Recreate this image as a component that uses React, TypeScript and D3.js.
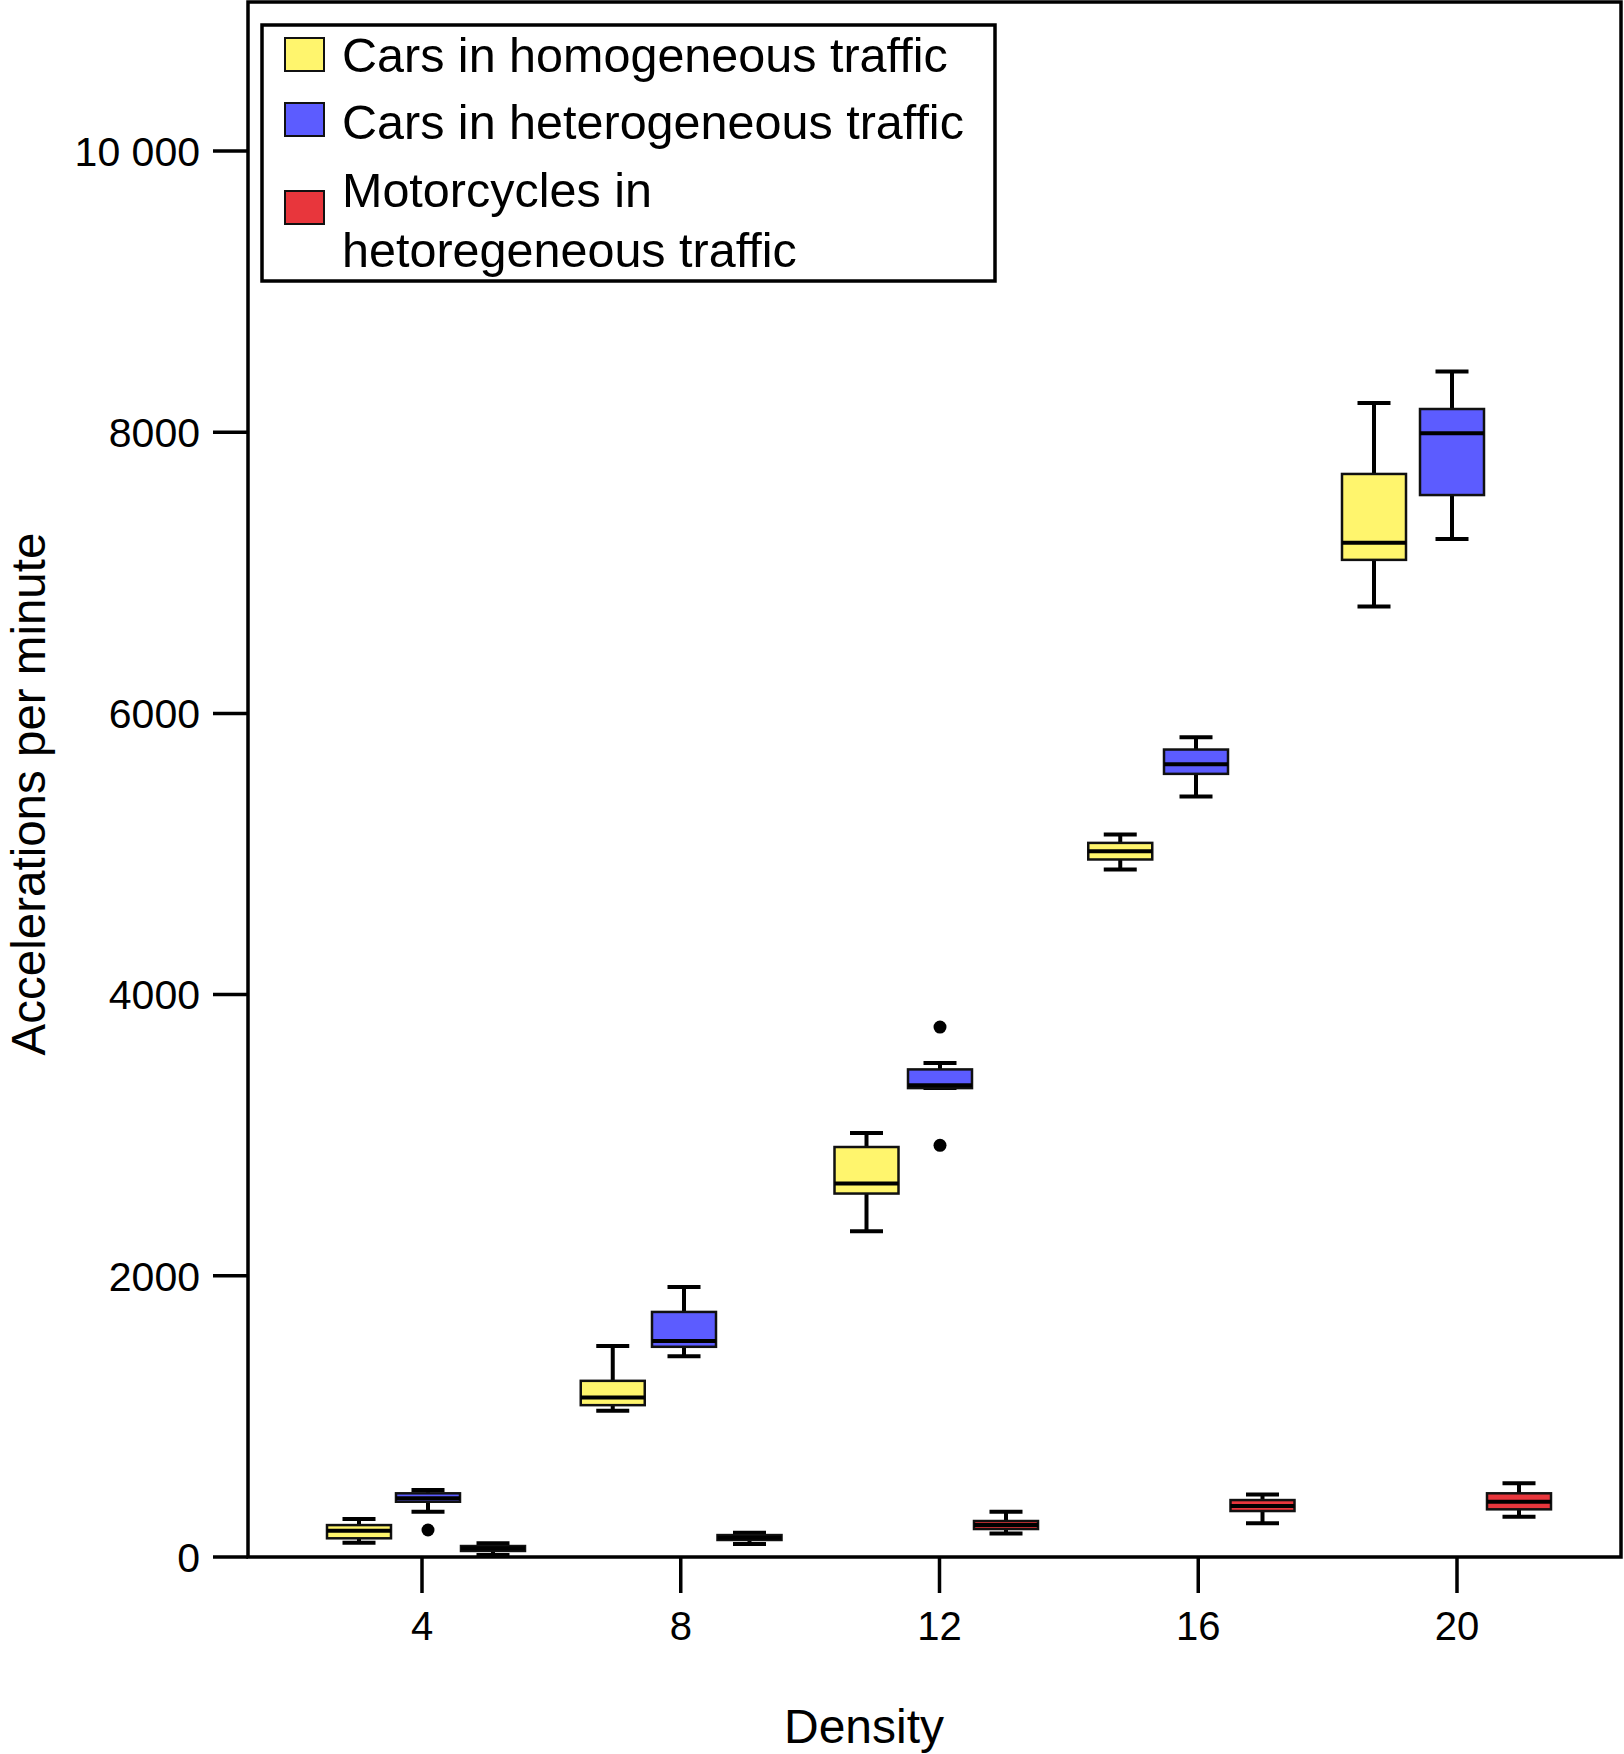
import React from "react";
import * as d3 from "d3";

// densities on the x axis
const densities = [4, 8, 12, 16, 20];

// box stats per density: [lower whisker, q1, median, q3, upper whisker]
const homogeneousCars = [
  [102, 133, 187, 227, 270],
  [1040, 1080, 1135, 1253, 1500],
  [2317, 2585, 2656, 2916, 3016],
  [4890, 4961, 5020, 5079, 5139],
  [6760, 7092, 7213, 7703, 8208],
];
const heterogeneousCars = [
  [322, 393, 417, 453, 476],
  [1428, 1495, 1537, 1743, 1921],
  [3335, 3335, 3355, 3468, 3513],
  [5409, 5570, 5639, 5743, 5830],
  [7240, 7553, 7992, 8165, 8432],
];
const motorcycles = [
  [14, 43, 62, 78, 97],
  [92, 121, 137, 156, 173],
  [168, 199, 227, 256, 322],
  [240, 327, 362, 405, 445],
  [286, 339, 393, 453, 524],
];

// outliers for heterogeneous cars: [density, value]
const heteroOutliers: [number, number][] = [
  [4, 192],
  [12, 3769],
  [12, 2928],
];

const yTicks = [0, 2000, 4000, 6000, 8000, 10000];
const yTickLabels = ["0", "2000", "4000", "6000", "8000", "10 000"];

const legendLabels = [
  ["Cars in homogeneous traffic"],
  ["Cars in heterogeneous traffic"],
  ["Motorcycles in", "hetoregeneous traffic"],
];

const W = 1624;
const H = 1754;
const FONT = "'Liberation Sans', Arial, Helvetica, sans-serif";

// each series sits at its own place inside a density group
const series = [
  { data: homogeneousCars, fill: "#fff56d", range: [359, 1374] },
  { data: heterogeneousCars, fill: "#5c5cff", range: [428, 1452] },
  { data: motorcycles, fill: "#e8363c", range: [493, 1519] },
];

export default function App() {
  const plot = { left: 248, right: 1621, top: 2, bottom: 1557 };

  const y = d3.scaleLinear().domain([0, 10000]).range([1557, 151]);
  const xTick = d3.scaleLinear().domain([4, 20]).range([422, 1457]);
  const boxW = 64;
  const capW = 33;

  return (
    <svg
      width={W}
      height={H}
      style={{ position: "absolute", left: 0, top: 0, background: "#fff" }}
      fontFamily={FONT}
    >
      <rect x={0} y={0} width={W} height={H} fill="#fff" />

      {/* boxes */}
      {series.map((s, si) => {
        const xb = d3.scaleLinear().domain([4, 20]).range(s.range);
        return s.data.map((b, i) => {
          const cx = xb(densities[i]);
          const [lo, q1, med, q3, hi] = b;
          return (
            <g key={`${si}-${i}`}>
              <line x1={cx} x2={cx} y1={y(hi)} y2={y(q3)} stroke="#000" strokeWidth={4} />
              <line x1={cx} x2={cx} y1={y(q1)} y2={y(lo)} stroke="#000" strokeWidth={4} />
              <line x1={cx - capW / 2} x2={cx + capW / 2} y1={y(hi)} y2={y(hi)} stroke="#000" strokeWidth={4} />
              <line x1={cx - capW / 2} x2={cx + capW / 2} y1={y(lo)} y2={y(lo)} stroke="#000" strokeWidth={4} />
              <rect
                x={cx - boxW / 2}
                y={y(q3)}
                width={boxW}
                height={Math.max(1, y(q1) - y(q3))}
                fill={s.fill}
                stroke="#111"
                strokeWidth={2.5}
              />
              <line x1={cx - boxW / 2} x2={cx + boxW / 2} y1={y(med)} y2={y(med)} stroke="#000" strokeWidth={4} />
            </g>
          );
        });
      })}

      {heteroOutliers.map(([d, v], i) => {
        const xb = d3.scaleLinear().domain([4, 20]).range(series[1].range);
        return <circle key={i} cx={xb(d)} cy={y(v)} r={6.5} fill="#000" />;
      })}

      {/* frame */}
      <rect
        x={plot.left}
        y={plot.top}
        width={plot.right - plot.left}
        height={plot.bottom - plot.top}
        fill="none"
        stroke="#000"
        strokeWidth={3.5}
      />

      {/* y axis */}
      {yTicks.map((t, i) => (
        <g key={t}>
          <line x1={213} x2={plot.left} y1={y(t)} y2={y(t)} stroke="#000" strokeWidth={3.5} />
          <text x={200} y={y(t)} dy="0.36em" textAnchor="end" fontSize={41}>
            {yTickLabels[i]}
          </text>
        </g>
      ))}

      {/* x axis */}
      {densities.map((d) => (
        <g key={d}>
          <line x1={xTick(d)} x2={xTick(d)} y1={plot.bottom} y2={1593} stroke="#000" strokeWidth={3.5} />
          <text x={xTick(d)} y={1640} textAnchor="middle" fontSize={40}>
            {d}
          </text>
        </g>
      ))}

      <text x={864} y={1743} textAnchor="middle" fontSize={48}>
        Density
      </text>
      <text transform={`translate(45, 794) rotate(-90)`} textAnchor="middle" fontSize={47.5}>
        Accelerations per minute
      </text>

      {/* legend */}
      <rect x={262} y={25} width={733} height={256} fill="#fff" stroke="#000" strokeWidth={3.5} />
      {[38, 103, 191].map((sy, i) => (
        <rect key={i} x={285} y={sy} width={39} height={33} fill={series[i].fill} stroke="#111" strokeWidth={2} />
      ))}
      {[[72], [139], [207, 267]].map((ys, i) =>
        ys.map((by, j) => (
          <text key={`${i}-${j}`} x={342} y={by} fontSize={48.5}>
            {legendLabels[i][j]}
          </text>
        ))
      )}
    </svg>
  );
}
